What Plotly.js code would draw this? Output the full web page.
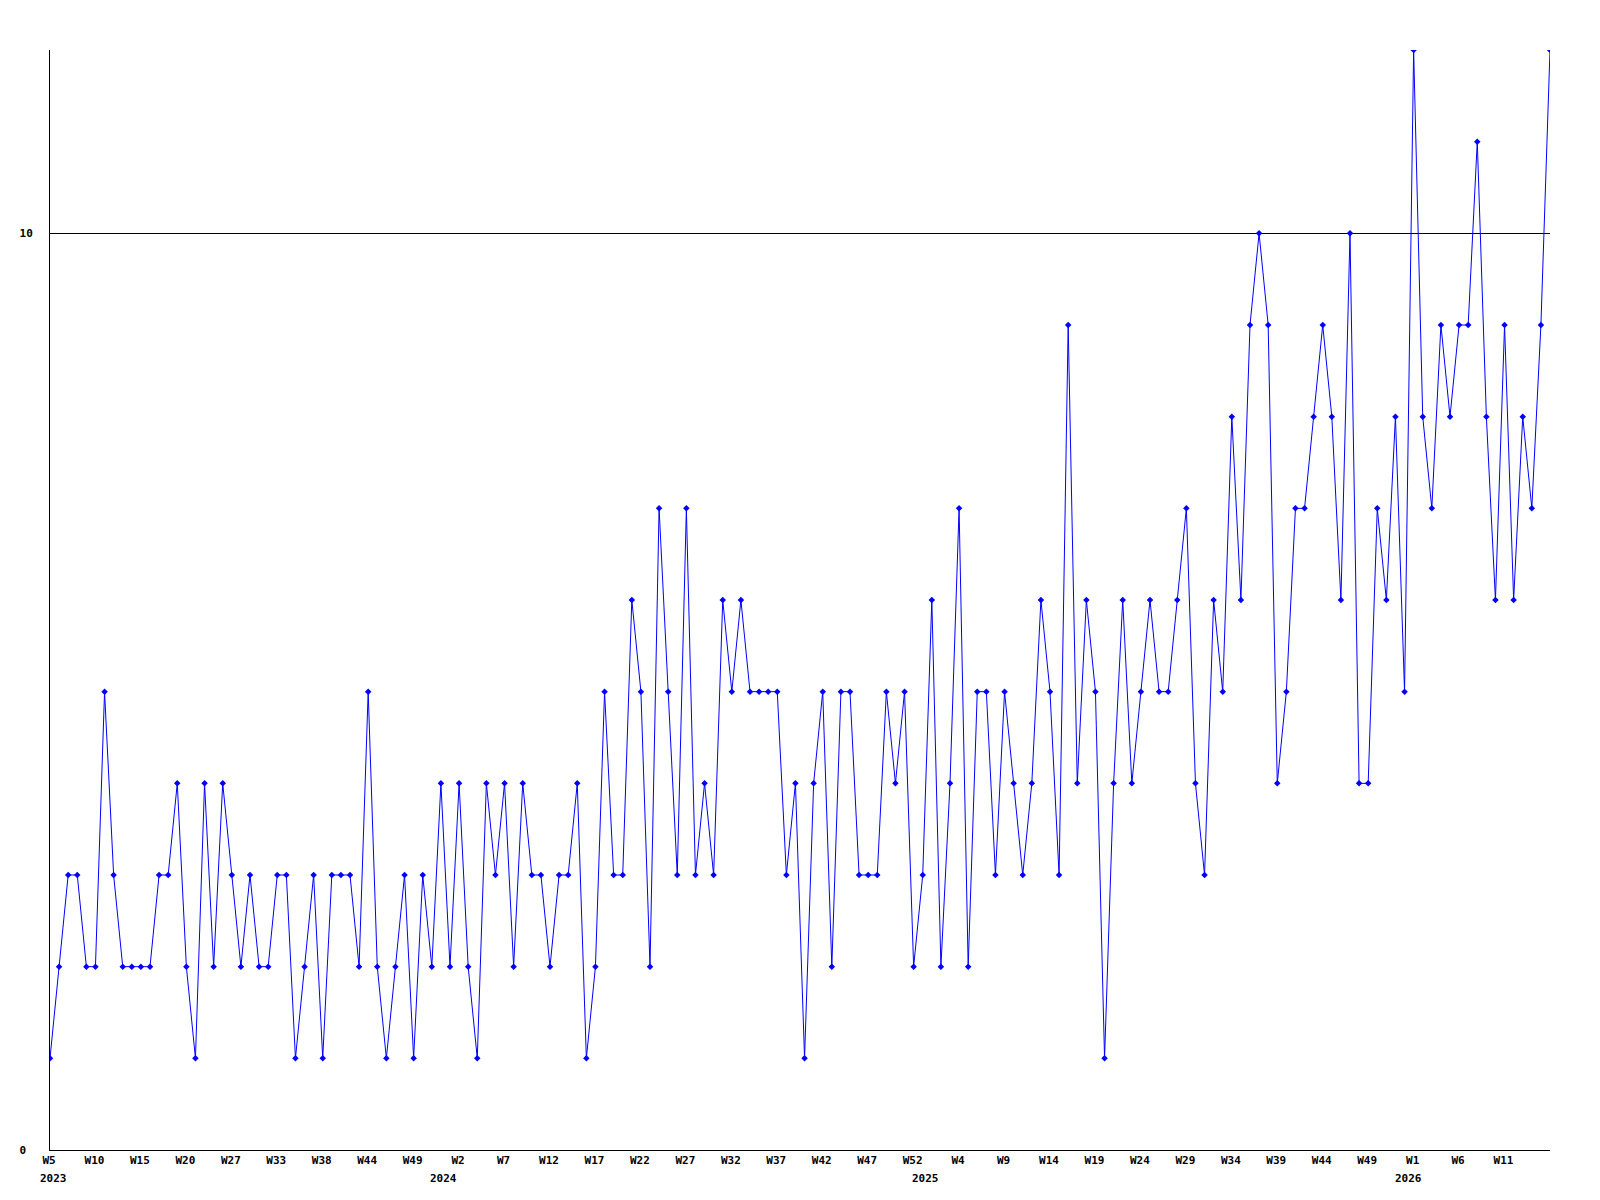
<!DOCTYPE html>
<html>
<head>
<meta charset="utf-8">
<script src="https://cdn.plot.ly/plotly-3.0.1.min.js"></script>
<style>
  html, body { margin: 0; padding: 0; background: #fff; }
  #chart { width: 1600px; height: 1200px; }
</style>
</head>
<body>
<div id="chart"></div>
<script>
// Weekly values, one per week, in order (2023 W5 ... 2026)
const values = [
  1,2,3,3,2,2,5,3,2,2,
  2,2,3,3,4,2,1,4,2,4,
  3,2,3,2,2,3,3,1,2,3,
  1,3,3,3,2,5,2,1,2,3,
  1,3,2,4,2,4,2,1,4,3,
  4,2,4,3,3,2,3,3,4,1,
  2,5,3,3,6,5,2,7,5,3,
  7,3,4,3,6,5,6,5,5,5,
  5,3,4,1,4,5,2,5,5,3,
  3,3,5,4,5,2,3,6,2,4,
  7,2,5,5,3,5,4,3,4,6,
  5,3,9,4,6,5,1,4,6,4,
  5,6,5,5,6,7,4,3,6,5,
  8,6,9,10,9,4,5,7,7,8,
  9,8,6,10,4,4,7,6,8,5,
  12,8,7,9,8,9,9,11,8,6,
  9,6,8,7,9,12
];

// Week tick labels and the point index each one sits on
const tickLabels = ['W5','W10','W15','W20','W27','W33','W38','W44','W49',
  'W2','W7','W12','W17','W22','W27','W32','W37','W42','W47','W52',
  'W4','W9','W14','W19','W24','W29','W34','W39','W44','W49',
  'W1','W6','W11'];
const tickIdx = [0,5,10,15,20,25,30,35,40,45,50,55,60,65,70,75,80,85,90,95,
  100,105,110,115,120,125,130,135,140,145,150,155,160];

// Year labels and the (week) index they are centred on
const yearLabels = ['2023','2024','2025','2026'];
const yearIdx = [0.4, 43.3, 96.3, 149.4];

// Y axis ticks
const yTickVals = [0, 10];
const yTickText = ['0\u00a0', '10'];

const xIdx = values.map((v, i) => i);

const FONT = {family: 'DejaVu Sans Mono, Liberation Mono, monospace', size: 11, color: '#000', weight: 'bold'};

const trace = {
  type: 'scatter',
  mode: 'lines+markers',
  x: xIdx,
  y: values,
  line: {color: '#0000ff', width: 1},
  marker: {color: '#0000ff', symbol: 'diamond', size: 5},
  hoverinfo: 'skip'
};

const annotations = yearLabels.map((t, k) => ({
  x: yearIdx[k], xref: 'x',
  y: 0, yref: 'paper',
  yanchor: 'middle', xanchor: 'center',
  yshift: -28,
  text: t, showarrow: false,
  font: FONT
}));

const layout = {
  width: 1600, height: 1200,
  margin: {l: 50, r: 50, t: 50, b: 50, pad: 0},
  paper_bgcolor: '#fff', plot_bgcolor: '#fff',
  showlegend: false,
  xaxis: {
    range: [0, values.length - 1],
    tickmode: 'array', tickvals: tickIdx, ticktext: tickLabels,
    showgrid: false, zeroline: false,
    showline: true, linecolor: '#000', linewidth: 1,
    ticks: '', tickfont: FONT, fixedrange: true,
    ticklabelshift: -1
  },
  yaxis: {
    range: [0, 12],
    tickmode: 'array', tickvals: yTickVals, ticktext: yTickText,
    showgrid: true, gridcolor: '#000', gridwidth: 1,
    zeroline: false,
    showline: true, linecolor: '#000', linewidth: 1,
    ticks: '', tickfont: FONT, fixedrange: true,
    ticklabelstandoff: 14
  },
  annotations: annotations
};

Plotly.newPlot('chart', [trace], layout, {displayModeBar: false, staticPlot: true});
</script>
</body>
</html>
